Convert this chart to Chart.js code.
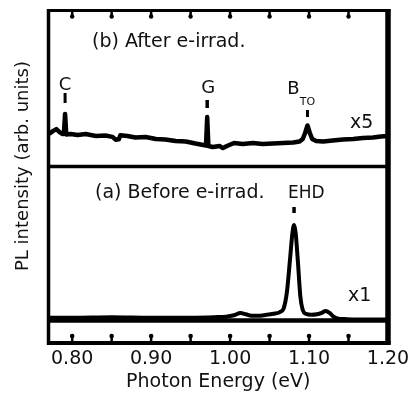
<!DOCTYPE html>
<html>
<head>
<meta charset="utf-8">
<script src="https://cdn.jsdelivr.net/npm/chart.js@4.4.1/dist/chart.umd.min.js"></script>
<style>
  html, body { margin: 0; padding: 0; background: #fff; }
</style>
</head>
<body>
<canvas id="myChart" width="411" height="397"></canvas>
<script>
// (a) before irradiation, x1
const beforeEnergy = [0.770, 0.800, 0.850, 0.900, 0.950, 0.980, 0.995, 1.005, 1.013, 1.020,
  1.027, 1.035, 1.045, 1.055, 1.063, 1.068, 1.072, 1.076, 1.079, 1.081,
  1.083, 1.086, 1.089, 1.092, 1.096, 1.103, 1.110, 1.116, 1.121, 1.126,
  1.131, 1.137, 1.145, 1.160, 1.180, 1.200];
const beforeIntensity = [0.03, 0.03, 0.035, 0.03, 0.03, 0.035, 0.04, 0.055, 0.078, 0.065,
  0.05, 0.05, 0.058, 0.07, 0.088, 0.13, 0.30, 0.65, 0.92, 1.00,
  0.92, 0.60, 0.25, 0.11, 0.07, 0.06, 0.065, 0.08, 0.10, 0.08,
  0.04, 0.02, 0.015, 0.01, 0.01, 0.01];

// (b) after e-irradiation, x5
const afterEnergy = [0.770, 0.772, 0.776, 0.780, 0.784, 0.788, 0.7895, 0.791, 0.7925, 0.798,
  0.807, 0.817, 0.830, 0.842, 0.851, 0.855, 0.859, 0.861, 0.870, 0.880,
  0.893, 0.906, 0.918, 0.931, 0.944, 0.956, 0.966, 0.9695, 0.971, 0.9725,
  0.978, 0.987, 0.991, 0.996, 1.005, 1.016, 1.029, 1.041, 1.054, 1.067,
  1.080, 1.088, 1.092, 1.095, 1.098, 1.101, 1.104, 1.109, 1.118, 1.130,
  1.143, 1.156, 1.168, 1.181, 1.191, 1.200];
const afterIntensity = [0.212, 0.213, 0.228, 0.240, 0.221, 0.208, 0.210, 0.337, 0.205, 0.208,
  0.202, 0.208, 0.196, 0.199, 0.190, 0.172, 0.174, 0.200, 0.196, 0.186,
  0.189, 0.176, 0.173, 0.163, 0.160, 0.147, 0.138, 0.135, 0.317, 0.131,
  0.125, 0.131, 0.118, 0.131, 0.151, 0.144, 0.151, 0.144, 0.147, 0.151,
  0.154, 0.160, 0.176, 0.215, 0.263, 0.215, 0.176, 0.163, 0.160, 0.167,
  0.173, 0.176, 0.183, 0.186, 0.192, 0.196];

const xTickValues = [0.80, 0.85, 0.90, 0.95, 1.00, 1.05, 1.10, 1.15, 1.20];
const peakNames = ['C', 'G', 'B', 'EHD'];
const peakEnergy = [0.791, 0.971, 1.098, 1.081];

const toPoints = (xs, ys) => xs.map((x, i) => ({ x: x, y: ys[i] }));
const FONT = 'DejaVu Sans';

Chart.defaults.font.family = FONT;
Chart.defaults.color = '#111';

const decor = {
  id: 'decor',
  afterDatasetsDraw(chart) {
    const { ctx, chartArea: a, scales } = chart;
    const xs = scales.x;
    ctx.save();
    ctx.strokeStyle = '#000';
    ctx.fillStyle = '#000';

    function line(x1, y1, x2, y2, w) {
      ctx.lineWidth = w;
      ctx.beginPath();
      ctx.moveTo(x1, y1);
      ctx.lineTo(x2, y2);
      ctx.stroke();
    }

    // frame, panel divider, zero line of (a)
    line(a.left - 1.5, a.top, a.right + 2.5, a.top, 3);
    line(a.left - 1.5, a.bottom, a.right + 2.5, a.bottom, 4);
    line(a.left, a.top - 1.5, a.left, a.bottom + 2, 3.5);
    line(a.right, a.top - 1.5, a.right, a.bottom + 2, 5.5);
    line(a.left, scales.yB.getPixelForValue(0), a.right, scales.yB.getPixelForValue(0), 3.5);
    line(a.left, scales.yA.getPixelForValue(0), a.right, scales.yA.getPixelForValue(0), 4.5);

    // inward ticks with round ends
    xTickValues.forEach(v => {
      if (v >= 1.2) return;
      const px = xs.getPixelForValue(v);
      line(px, a.top, px, a.top + 6, 2.5);
      line(px, a.bottom, px, a.bottom - 7, 2.5);
      ctx.beginPath(); ctx.arc(px, a.top + 6, 2.2, 0, Math.PI * 2); ctx.fill();
      ctx.beginPath(); ctx.arc(px, a.bottom - 7, 2.3, 0, Math.PI * 2); ctx.fill();
    });

    // panel labels
    ctx.fillStyle = '#111';
    ctx.textBaseline = 'alphabetic';
    ctx.textAlign = 'left';
    ctx.font = '19px ' + FONT;
    ctx.fillText('(b) After e-irrad.', 92, 47);
    ctx.fillText('(a) Before e-irrad.', 95, 198);
    ctx.fillText('x5', 350, 128);
    ctx.fillText('x1', 348, 301);

    // peak labels and markers
    const pC = xs.getPixelForValue(peakEnergy[0]);
    const pG = xs.getPixelForValue(peakEnergy[1]);
    const pB = xs.getPixelForValue(peakEnergy[2]);
    const pE = xs.getPixelForValue(peakEnergy[3]);
    ctx.textAlign = 'center';
    ctx.font = '18px ' + FONT;
    ctx.fillText(peakNames[0], pC, 90);
    ctx.fillText(peakNames[1], pG + 1, 93);
    ctx.fillText(peakNames[2], pB - 14, 94);
    ctx.font = '11px ' + FONT;
    ctx.fillText('TO', pB, 105);
    ctx.font = '17px ' + FONT;
    ctx.textAlign = 'left';
    ctx.fillText(peakNames[3], pE - 6, 198);
    ctx.strokeStyle = '#000';
    line(pC, 93, pC, 103, 3);
    line(pG, 100, pG, 108, 3.5);
    line(pB, 110, pB, 117, 3);
    line(pE, 207, pE, 213, 3.5);

    // y title
    ctx.translate(23, 166);
    ctx.rotate(-Math.PI / 2);
    ctx.textAlign = 'center';
    ctx.textBaseline = 'middle';
    ctx.font = '18px ' + FONT;
    ctx.fillText('PL intensity (arb. units)', 0, 0);
    ctx.restore();
  }
};

new Chart('myChart', {
  type: 'line',
  data: {
    datasets: [{
      data: toPoints(beforeEnergy, beforeIntensity),
      yAxisID: 'yA',
      borderColor: '#000',
      borderWidth: 4,
      cubicInterpolationMode: 'monotone',
      borderJoinStyle: 'round',
      pointRadius: 0
    }, {
      data: toPoints(afterEnergy, afterIntensity),
      yAxisID: 'yB',
      borderColor: '#000',
      borderWidth: 4.5,
      tension: 0,
      borderJoinStyle: 'round',
      pointRadius: 0
    }]
  },
  options: {
    responsive: false,
    animation: false,
    layout: { padding: { left: 48.5, right: 23, top: 10.5, bottom: 5 } },
    plugins: { legend: { display: false }, tooltip: { enabled: false } },
    scales: {
      x: {
        type: 'linear',
        min: 0.77,
        max: 1.20,
        afterBuildTicks: axis => { axis.ticks = xTickValues.map(v => ({ value: v })); },
        grid: { display: false, drawTicks: true, tickLength: 4 },
        border: { display: false },
        ticks: {
          autoSkip: false,
          maxRotation: 0,
          padding: 1,
          font: { size: 19 },
          color: '#111',
          callback: v => (Math.round(v * 100) % 10 === 0 ? v.toFixed(2) : '')
        },
        title: {
          display: true,
          text: 'Photon Energy (eV)',
          font: { size: 19, lineHeight: 1.0 },
          padding: { top: 1.2, bottom: 0 },
          color: '#111'
        }
      },
      yA: { display: false, min: -0.2356, max: 3.246 },
      yB: { display: false, min: -1.1314, max: 1.0 }
    }
  },
  plugins: [decor]
});
</script>
</body>
</html>
